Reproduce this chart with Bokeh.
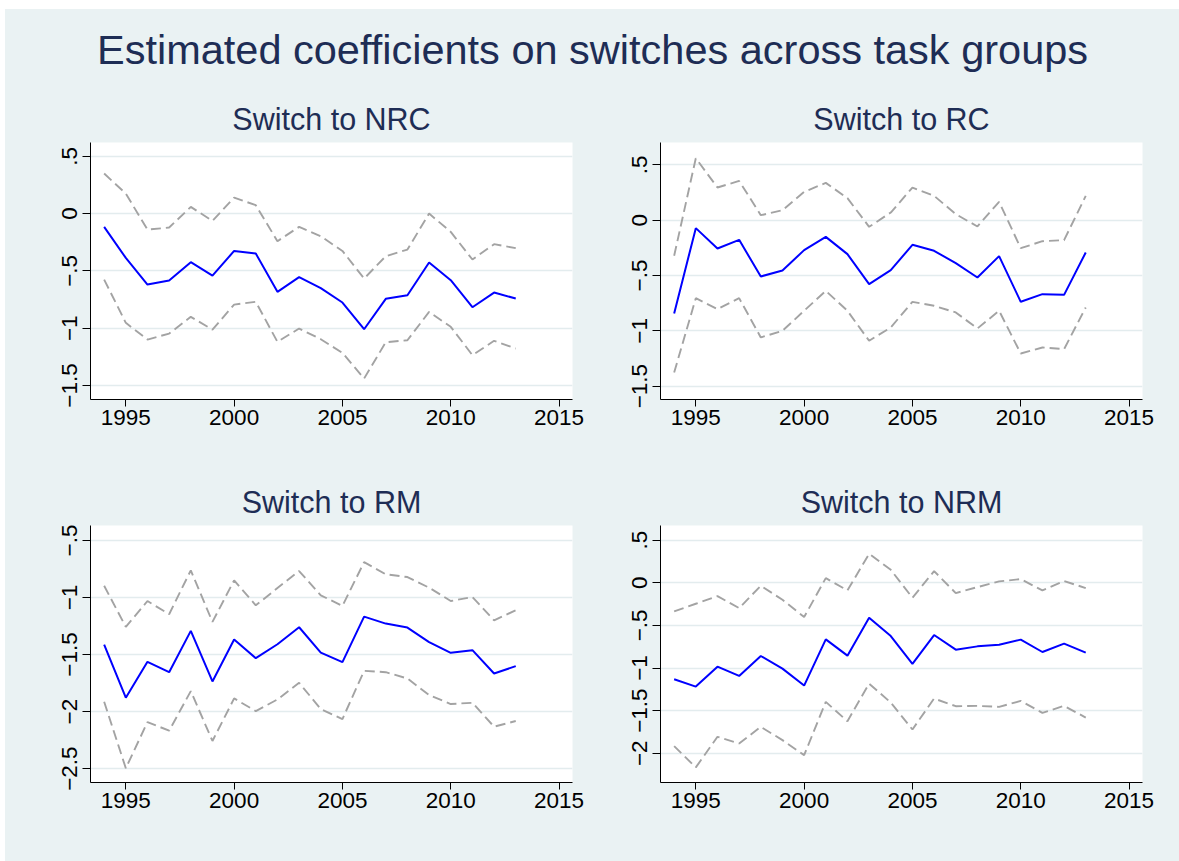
from bokeh.plotting import figure
from bokeh.layouts import column, row
from bokeh.models import Range1d, FixedTicker, CustomJSTickFormatter, Label
from bokeh.embed import file_html
from bokeh.resources import INLINE

# ---- data -------------------------------------------------------------
years = [1994, 1995, 1996, 1997, 1998, 1999, 2000, 2001, 2002, 2003,
         2004, 2005, 2006, 2007, 2008, 2009, 2010, 2011, 2012, 2013]

nrc_coef = [-0.116, -0.387, -0.619, -0.584, -0.424, -0.541, -0.326, -0.349, -0.683, -0.555,
            -0.651, -0.776, -1.009, -0.744, -0.712, -0.427, -0.581, -0.817, -0.689, -0.741]
nrc_upper = [0.349, 0.174, -0.140, -0.122, 0.058, -0.064, 0.140, 0.073, -0.241, -0.116,
             -0.198, -0.326, -0.567, -0.372, -0.314, 0.000, -0.160, -0.401, -0.267, -0.302]
nrc_lower = [-0.576, -0.953, -1.099, -1.047, -0.901, -1.012, -0.794, -0.770, -1.119, -1.003,
             -1.096, -1.215, -1.439, -1.122, -1.105, -0.858, -0.988, -1.235, -1.110, -1.177]

rc_coef = [-0.843, -0.072, -0.256, -0.178, -0.509, -0.455, -0.271, -0.151, -0.307, -0.578,
           -0.452, -0.223, -0.277, -0.389, -0.518, -0.325, -0.738, -0.669, -0.675, -0.292]
rc_upper = [-0.322, 0.560, 0.295, 0.355, 0.045, 0.090, 0.256, 0.337, 0.199, -0.060,
            0.069, 0.295, 0.220, 0.054, -0.057, 0.166, -0.253, -0.190, -0.181, 0.220]
rc_lower = [-1.377, -0.705, -0.804, -0.705, -1.060, -1.000, -0.819, -0.639, -0.819, -1.090,
            -0.970, -0.738, -0.774, -0.834, -0.979, -0.819, -1.205, -1.151, -1.166, -0.789]

rm_coef = [-1.413, -1.879, -1.564, -1.655, -1.293, -1.736, -1.369, -1.532, -1.410, -1.261,
           -1.483, -1.567, -1.168, -1.229, -1.264, -1.392, -1.485, -1.462, -1.666, -1.602]
rm_upper = [-0.897, -1.258, -1.031, -1.147, -0.762, -1.214, -0.850, -1.069, -0.917, -0.768,
            -0.981, -1.074, -0.690, -0.797, -0.821, -0.914, -1.031, -0.996, -1.200, -1.112]
rm_lower = [-1.914, -2.497, -2.092, -2.168, -1.821, -2.258, -1.885, -1.996, -1.894, -1.748,
            -1.978, -2.066, -1.643, -1.655, -1.710, -1.856, -1.934, -1.923, -2.133, -2.083]

nrm_coef = [-1.132, -1.218, -0.984, -1.093, -0.859, -1.007, -1.206, -0.664, -0.855, -0.410,
            -0.625, -0.952, -0.613, -0.785, -0.746, -0.726, -0.667, -0.812, -0.714, -0.820]
nrm_upper = [-0.336, -0.246, -0.156, -0.297, -0.035, -0.199, -0.402, 0.055, -0.090, 0.340,
             0.152, -0.176, 0.137, -0.121, -0.051, 0.016, 0.043, -0.090, 0.020, -0.062]
nrm_lower = [-1.916, -2.166, -1.807, -1.885, -1.690, -1.846, -2.022, -1.397, -1.624, -1.183,
             -1.405, -1.721, -1.358, -1.448, -1.444, -1.456, -1.386, -1.526, -1.444, -1.581]

x_ticks = [1995, 2000, 2005, 2010, 2015]
nrc_yticks = [-1.5, -1.0, -0.5, 0.0, 0.5]
rc_yticks = [-1.5, -1.0, -0.5, 0.0, 0.5]
rm_yticks = [-2.5, -2.0, -1.5, -1.0, -0.5]
nrm_yticks = [-2.0, -1.5, -1.0, -0.5, 0.0, 0.5]

main_title = "Estimated coefficients on switches across task groups"

# ---- style ------------------------------------------------------------
BG = "#EAF2F3"
NAVY = "#1E2D55"
GRID = "#E3ECEE"
FONT = "Liberation Sans"

tick_fmt = CustomJSTickFormatter(code="""
    let s = String(Math.round(tick * 10) / 10);
    s = s.replace("0.", ".");
    return s.replace("-", "\u2212");
""")


def panel(title, coef, upper, lower, yrange, yticks, width, height,
          b_left, b_right, b_top, b_bottom):
    p = figure(width=width, height=height, title=title,
               x_range=Range1d(1993.37, 2015.62), y_range=Range1d(*yrange),
               toolbar_location=None, output_backend="svg",
               min_border_left=b_left, min_border_right=b_right,
               min_border_top=b_top, min_border_bottom=b_bottom)
    p.background_fill_color = "white"
    p.border_fill_color = BG
    p.outline_line_color = None

    p.title.text_font = FONT
    p.title.text_font_size = "30.5px"
    p.title.text_font_style = "normal"
    p.title.text_color = NAVY
    p.title.align = "center"
    p.title.standoff = 13

    p.line(years, upper, line_color="#A3A3A3", line_width=1.9, line_dash="10 5")
    p.line(years, lower, line_color="#A3A3A3", line_width=1.9, line_dash="10 5")
    p.line(years, coef, line_color="#0000FF", line_width=2)

    p.xgrid.visible = False
    p.ygrid.grid_line_color = GRID
    p.ygrid.grid_line_width = 1.6
    p.ygrid.ticker = FixedTicker(ticks=yticks)

    p.xaxis.ticker = FixedTicker(ticks=x_ticks)
    p.yaxis.ticker = FixedTicker(ticks=yticks)
    p.yaxis.formatter = tick_fmt
    p.yaxis.major_label_orientation = "vertical"

    for ax in (p.xaxis, p.yaxis):
        ax.axis_line_color = "black"
        ax.axis_line_width = 1
        ax.major_tick_line_color = "black"
        ax.major_tick_line_width = 1
        ax.major_tick_in = 0
        ax.minor_tick_line_color = None
        ax.major_label_text_font = FONT
        ax.major_label_text_font_size = "22.5px"
        ax.major_label_text_color = "black"
    p.xaxis.major_tick_out = 7
    p.xaxis.major_label_standoff = 3
    p.yaxis.major_tick_out = 8
    p.yaxis.major_label_standoff = 5
    return p


# header with the overall title
header = figure(width=1174, height=80, x_range=Range1d(0, 1), y_range=Range1d(0, 80),
                toolbar_location=None, output_backend="svg",
                x_axis_type=None, y_axis_type=None, min_border=0)
header.background_fill_color = BG
header.border_fill_color = BG
header.outline_line_color = None
header.grid.visible = False
header.add_layout(Label(x=0.5, y=40.5, text=main_title, text_align="center",
                        text_baseline="alphabetic", text_font=FONT,
                        text_font_size="41.5px", text_color=NAVY))

p1 = panel("Switch to NRC", nrc_coef, nrc_upper, nrc_lower, (-1.622, 0.62), nrc_yticks,
           605, 366, 85, 38, 53, 56)
p2 = panel("Switch to RC", rc_coef, rc_upper, rc_lower, (-1.621, 0.702), rc_yticks,
           569, 366, 50, 37, 53, 56)
p3 = panel("Switch to RM", rm_coef, rm_upper, rm_lower, (-2.622, -0.369), rm_yticks,
           605, 406, 85, 38, 70, 79)
p4 = panel("Switch to NRM", nrm_coef, nrm_upper, nrm_lower, (-2.343, 0.672), nrm_yticks,
           569, 406, 50, 37, 70, 79)

top_row = row(p1, p2, styles={"background-color": BG})
bottom_row = row(p3, p4, styles={"background-color": BG})
layout = column(header, top_row, bottom_row, margin=(9, 0, 0, 5),
                styles={"background-color": BG})

with open("out.html", "w") as f:
    f.write(file_html(layout, INLINE))
